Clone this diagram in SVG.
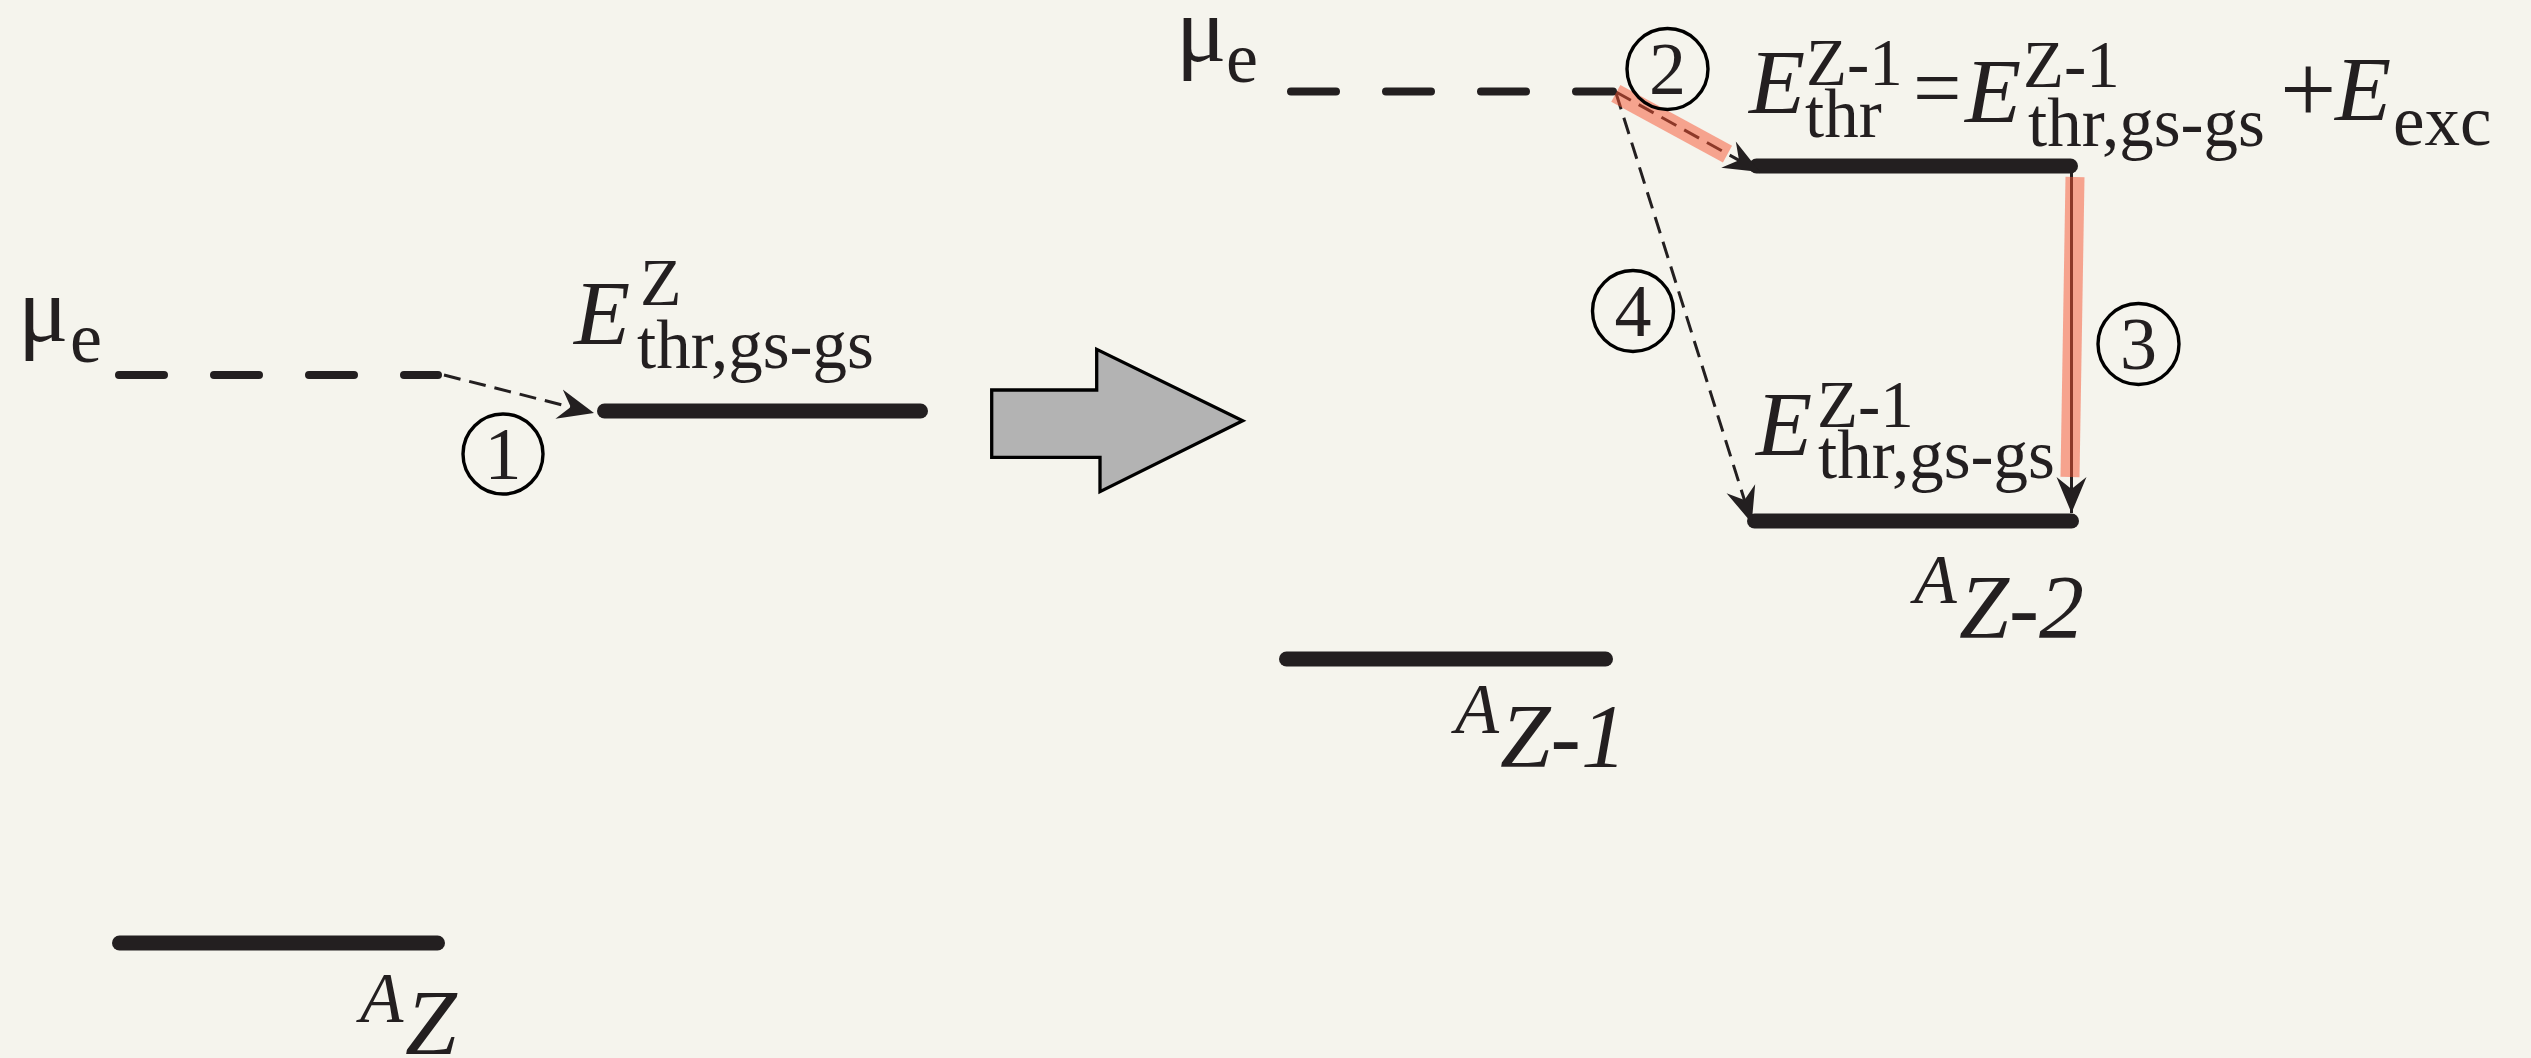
<svg xmlns="http://www.w3.org/2000/svg" width="2531" height="1058" viewBox="0 0 2531 1058">
<defs>
<style>
.t{font-family:"Liberation Serif","Times New Roman",serif;fill:#231f20}
.i{font-style:italic}
.lvl{stroke:#231f20;stroke-width:15;stroke-linecap:round;fill:none}
.mu{stroke:#231f20;stroke-width:8;stroke-linecap:round;stroke-dasharray:45 50;fill:none}
.dash{stroke:#231f20;stroke-width:3;stroke-dasharray:17 9;fill:none}
.solid{stroke:#231f20;stroke-width:3;fill:none}
.hl{stroke:#f75230;stroke-opacity:0.5;stroke-width:19;fill:none}
.circ{fill:none;stroke:#000;stroke-width:3.4}
.num{font-size:74px;text-anchor:middle}
</style>
<marker id="ah" markerUnits="userSpaceOnUse" viewBox="-38 -17 40 34" markerWidth="40" markerHeight="34" refX="0" refY="0" orient="auto">
<path d="M0,0 L-36,-15 L-24,0 L-36,15 Z" fill="#231f20"/>
</marker>
</defs>
<rect width="2531" height="1058" fill="#f5f4ed"/>

<g id="mu-left">
<text class="t"><tspan x="18" y="341" font-size="94">μ</tspan><tspan x="70" y="362" font-size="72">e</tspan></text>
<line class="mu" x1="119" y1="375" x2="438" y2="375"/>
</g>

<g id="level-AZ-thr">
<line class="lvl" x1="604.5" y1="411" x2="920.5" y2="411"/>
<text class="t"><tspan class="i" x="574" y="344" font-size="92">E</tspan><tspan x="640" y="305" font-size="68">Z</tspan><tspan x="637" y="368" font-size="69">thr,gs-gs</tspan></text>
</g>

<g id="level-AZ">
<line class="lvl" x1="119.5" y1="943" x2="437.5" y2="943"/>
<text class="t i"><tspan x="360" y="1022" font-size="71">A</tspan><tspan x="405" y="1054" font-size="93">Z</tspan></text>
</g>

<g id="transform-arrow">
<polygon points="991.7,390 1096.7,390 1096.7,349.3 1242.7,420.7 1100,491.7 1100,457.3 991.7,457.3" fill="#b3b3b3" stroke="#000" stroke-width="3.3"/>
</g>

<g id="mu-right">
<text class="t"><tspan x="1176" y="61" font-size="94">μ</tspan><tspan x="1226" y="82" font-size="72">e</tspan></text>
<line class="mu" x1="1291" y1="91.5" x2="1613" y2="91.5"/>
</g>

<g id="level-AZ1">
<line class="lvl" x1="1286.5" y1="659" x2="1605.5" y2="659"/>
<text class="t i"><tspan x="1455" y="733" font-size="72">A</tspan><tspan x="1500" y="767" font-size="91">Z-1</tspan></text>
</g>

<g id="level-Z1-thr">
<line class="lvl" x1="1756.5" y1="166" x2="2070.5" y2="166"/>
<text class="t"><tspan class="i" x="1749" y="113" font-size="92">E</tspan><tspan x="1806" y="85" font-size="67">Z-1</tspan><tspan x="1805" y="137" font-size="69">thr</tspan><tspan x="1913" y="117" font-size="86">=</tspan><tspan class="i" x="1965" y="122" font-size="92">E</tspan><tspan x="2023" y="87" font-size="67">Z-1</tspan><tspan x="2028" y="146" font-size="69">thr,gs-gs</tspan><tspan x="2280" y="123" font-size="100">+</tspan><tspan class="i" x="2335" y="120" font-size="92">E</tspan><tspan x="2393" y="145" font-size="71">exc</tspan></text>
</g>

<g id="level-Z1-gs">
<line class="lvl" x1="1754.5" y1="521" x2="2071.5" y2="521"/>
<text class="t"><tspan class="i" x="1756" y="455" font-size="92">E</tspan><tspan x="1817" y="427" font-size="67">Z-1</tspan><tspan x="1818" y="478" font-size="69">thr,gs-gs</tspan></text>
</g>

<g id="level-AZ2">
<text class="t i"><tspan x="1914" y="603" font-size="70">A</tspan><tspan x="1959" y="638" font-size="90">Z-2</tspan></text>
</g>

<g id="connectors">
<line id="c1" class="dash" x1="444" y1="375" x2="594" y2="413" marker-end="url(#ah)"/>
<line id="c2" class="dash" x1="1616" y1="92" x2="1760" y2="172" marker-end="url(#ah)"/>
<line id="c4" class="dash" x1="1616" y1="93" x2="1751.7" y2="523" marker-end="url(#ah)"/>
<line id="c3" class="solid" x1="2071.5" y1="168" x2="2071.5" y2="513" marker-end="url(#ah)"/>
</g>

<g id="highlights">
<line class="hl" x1="1615.8" y1="93.3" x2="1727.5" y2="154.2"/>
<line class="hl" x1="2075" y1="177" x2="2070" y2="477"/>
</g>

<g id="step-1"><circle class="circ" cx="503" cy="454" r="40"/><text class="t num" x="503" y="479">1</text></g>
<g id="step-2"><circle class="circ" cx="1667.5" cy="69" r="40.5"/><text class="t num" x="1667.5" y="94">2</text></g>
<g id="step-3"><circle class="circ" cx="2138.5" cy="344" r="40.5"/><text class="t num" x="2138.5" y="369">3</text></g>
<g id="step-4"><circle class="circ" cx="1633" cy="311" r="40.5"/><text class="t num" x="1633" y="336">4</text></g>
</svg>
